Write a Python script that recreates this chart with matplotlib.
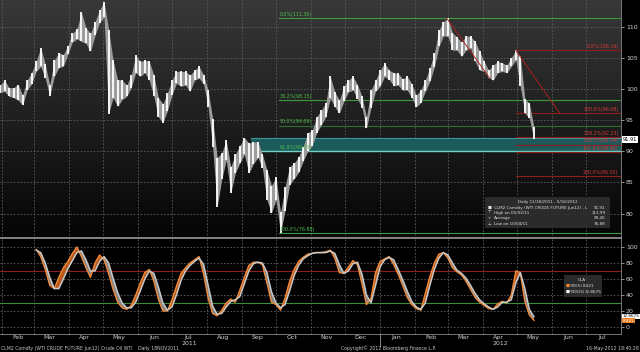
import numpy as np
import pandas as pd
import matplotlib
matplotlib.use("Agg")
import matplotlib.pyplot as plt
import matplotlib.dates as mdates
from matplotlib.colors import LinearSegmentedColormap
from matplotlib.patches import Rectangle

# ---- data (CLM2 Comdty, one sample every 4 days) ----
dates = pd.date_range("2011-01-30", periods=119, freq="4D")

price_hi = [100.6, 101.4, 100.2, 100.2, 100.7, 99.0, 101.4, 102.6, 104.4, 106.6,
            104.0, 100.6, 104.6, 105.8, 105.5, 106.9, 108.9, 109.6, 112.3, 109.8,
            108.9, 110.8, 112.6, 113.99, 109.5, 104.6, 101.5, 101.4, 100.6, 102.2,
            105.4, 104.4, 104.6, 104.4, 102.2, 98.6, 97.6, 99.3, 101.4, 102.8,
            102.8, 102.8, 102.2, 103.0, 103.6, 102.2, 99.8, 95.2, 89.0, 89.7,
            91.8, 87.5, 89.5, 90.9, 92.2, 91.3, 91.5, 91.5, 89.5, 87.0,
            84.5, 85.9, 80.2, 84.3, 87.5, 88.1, 89.1, 90.7, 92.9, 93.4,
            95.5, 96.6, 97.7, 102.0, 99.5, 98.2, 100.4, 101.4, 102.0, 100.7,
            98.8, 95.5, 99.8, 101.4, 103.0, 104.1, 103.0, 102.6, 102.5, 101.6,
            102.0, 100.8, 99.0, 99.8, 101.4, 103.4, 105.7, 109.4, 110.8, 111.3,
            109.0, 108.3, 107.5, 108.5, 108.4, 107.6, 106.0, 104.4, 103.0, 103.8,
            104.4, 104.2, 103.8, 105.0, 106.16, 105.2, 98.4, 97.7, 93.9]

price_lo = [99.4, 99.6, 98.8, 98.6, 98.2, 97.4, 99.8, 100.8, 102.8, 103.6,
            101.7, 98.8, 102.0, 103.4, 103.6, 105.6, 107.5, 108.0, 107.6, 107.3,
            106.0, 108.6, 110.6, 111.5, 96.0, 98.6, 97.2, 98.3, 98.8, 100.2,
            102.6, 102.0, 102.6, 101.4, 98.8, 95.5, 94.6, 96.5, 99.0, 100.9,
            100.4, 100.6, 99.6, 101.4, 101.7, 100.8, 97.1, 90.7, 81.1, 85.5,
            88.6, 83.3, 86.5, 88.1, 89.5, 86.5, 88.0, 89.0, 87.3, 82.2,
            80.1, 82.2, 76.88, 80.5, 84.6, 85.6, 86.6, 88.4, 90.0, 90.9,
            93.0, 94.2, 95.5, 98.5, 97.1, 96.1, 98.0, 99.5, 99.8, 98.4,
            97.0, 93.7, 97.0, 99.6, 100.4, 102.0, 101.5, 100.5, 100.6, 99.8,
            99.8, 98.6, 97.1, 97.8, 99.6, 101.2, 103.5, 106.8, 108.5, 108.4,
            106.2, 106.2, 105.2, 106.2, 106.5, 104.4, 103.0, 102.8, 101.8, 101.4,
            102.6, 102.8, 102.6, 103.6, 104.6, 100.4, 96.1, 95.3, 91.91]

# stochastic, starts with sample 8
stoch_d = [97, 88, 72, 52, 48, 62, 74, 82, 92, 100,
           88, 74, 62, 80, 90, 84, 67, 47, 31, 24,
           22, 27, 40, 55, 68, 72, 57, 35, 20, 20,
           34, 51, 67, 74, 80, 84, 88, 66, 36, 17,
           14, 21, 30, 35, 31, 46, 62, 77, 81, 81,
           78, 55, 31, 28, 21, 36, 57, 72, 82, 87,
           91, 92, 93, 93, 94, 96, 86, 68, 67, 75,
           83, 78, 54, 28, 36, 68, 82, 85, 88, 78,
           66, 52, 37, 28, 23, 21, 42, 63, 80, 91,
           93, 86, 74, 69, 65, 57, 47, 37, 31, 27,
           23, 22, 29, 32, 30, 40, 70, 68, 32, 15, 8.421]
stoch_ds = [96, 93, 80, 62, 48, 48, 60, 73, 83, 93,
            95, 84, 70, 70, 82, 88, 80, 61, 43, 30,
            24, 24, 31, 45, 60, 70, 67, 50, 30, 21,
            25, 40, 58, 70, 77, 82, 86, 78, 52, 26,
            16, 17, 25, 32, 34, 38, 54, 70, 79, 81,
            80, 68, 44, 30, 24, 28, 45, 64, 77, 85,
            89, 92, 93, 93, 93, 95, 92, 78, 67, 70,
            79, 81, 66, 40, 30, 52, 75, 84, 87, 84,
            72, 59, 45, 32, 25, 22, 30, 52, 72, 86,
            93, 90, 80, 71, 67, 61, 52, 42, 34, 29,
            25, 22, 25, 31, 31, 34, 55, 68, 48, 22, 12.8675]
stoch_dates = dates[8:]

fib_green = [(0.0, 111.30), (38.2, 98.15), (50.0, 94.09), (61.8, 90.03), (100.0, 76.88)]
fib_red = [(0.0, 106.16), (100.0, 96.08), (138.2, 92.23), (150.0, 91.04), (161.8, 89.85), (200.0, 86.00)]

months = ["Feb", "Mar", "Apr", "May", "Jun", "Jul", "Aug", "Sep", "Oct", "Nov", "Dec",
          "Jan", "Feb", "Mar", "Apr", "May", "Jun", "Jul"]

x0, x1 = pd.Timestamp("2011-01-30"), pd.Timestamp("2012-08-01")
grid_kw = dict(color="#5e5e5e", lw=0.6, ls=(0, (2, 2)))
fs = 4.5
small = 3.0

fig = plt.figure(figsize=(6.4, 3.52), dpi=100, facecolor="black")
ax = fig.add_axes([0, 0.3239, 0.9703, 0.6761])
ax2 = fig.add_axes([0, 0.0511, 0.9703, 0.2727])

# ---- price panel ----
cmap = LinearSegmentedColormap.from_list("bg", ["#050505", "#383838"])
ax.imshow(np.linspace(0, 1, 256).reshape(-1, 1), cmap=cmap, origin="lower",
          extent=[0, 1, 0, 1], transform=ax.transAxes, aspect="auto", zorder=0)
ax.set_xlim(x0, x1)
ax.set_ylim(76.1, 114.25)

for y in range(80, 111, 5):
    ax.axhline(y, zorder=1, **grid_kw)
for d in pd.date_range("2011-02-01", "2012-08-01", freq="MS"):
    ax.axvline(d, zorder=1, **grid_kw)
    ax2.axvline(d, zorder=1, **grid_kw)

# cyan zone
zone_x = [pd.Timestamp("2011-09-09"), x1]
ax.fill_between(zone_x, 90.0, 92.13, color="#1d5a5c", lw=0, zorder=2)
ax.plot(zone_x, [92.13, 92.13], color="#3f9598", lw=0.8, zorder=2)
ax.plot(zone_x, [90.0, 90.0], color="#72d0c4", lw=1.0, zorder=2)

# high/low bars
ax.fill_between(dates, price_lo, price_hi, color="#9c9c9c", lw=0, zorder=3)
ax.vlines(dates, price_lo, price_hi, color="white", lw=1.3, zorder=4)

# green retracement
g_start = pd.Timestamp("2011-10-04")
for pct, lvl in fib_green:
    col = "#7de0c8" if pct == 61.8 else ("#2f6f2f" if pct == 50.0 else "#3c9a3c")
    if pct != 61.8:
        ax.plot([g_start, x1], [lvl, lvl], color=col, lw=0.8, zorder=2)
    ax.text(g_start, lvl + 0.25, "%.1f%%(%.2f)" % (pct, lvl), color="#4cc04c",
            fontsize=3.4, va="bottom", ha="left", zorder=6)

# red extension
r_start = pd.Timestamp("2012-04-30")
ax.plot([pd.Timestamp("2012-02-29"), pd.Timestamp("2012-04-07")], [111.3, 101.7],
        color="#a52222", lw=0.7, zorder=5)
ax.plot([r_start, pd.Timestamp("2012-06-08")], [106.16, 96.08], color="#a52222", lw=0.7, zorder=5)
for pct, lvl in fib_red:
    ax.plot([r_start, x1], [lvl, lvl], color="#8e1d1d", lw=0.8, zorder=2)
    ax.text(0.996, lvl + 0.25, "%.1f%%(%.2f)" % (pct, lvl), color="#d83a3a", fontsize=3.4,
            va="bottom", ha="right", transform=ax.get_yaxis_transform(), zorder=6)

ax.yaxis.tick_right()
ax.set_yticks(range(80, 111, 5))
ax.tick_params(axis="y", colors="#d0d0d0", labelsize=fs, length=2, width=0.5, pad=1.5)
ax.tick_params(axis="x", which="both", length=0, labelbottom=False)
for s in ["left", "top", "bottom"]:
    ax.spines[s].set_visible(False)
ax.spines["right"].set_color("#8a8a8a")
ax.spines["right"].set_linewidth(0.6)

ax.annotate("91.91", xy=(1.0, 91.91), xycoords=ax.get_yaxis_transform(),
            xytext=(1.5, 0), textcoords="offset points", fontsize=3.6, color="black",
            va="center", ha="left", annotation_clip=False,
            bbox=dict(boxstyle="square,pad=0.15", fc="white", ec="none"))

# price legend box
ax.add_patch(Rectangle((0.781, 0.042), 0.201, 0.13, transform=ax.transAxes,
                       facecolor="#2e2e2e", edgecolor="none", alpha=0.92, zorder=7))
tk = dict(transform=ax.transAxes, fontsize=small, color="#e0e0e0", zorder=8, va="center")
ax.text(0.882, 0.151, "Daily 11/18/2011 - 5/16/2012", ha="center", **tk)
rows = [("\u25A0", "CLM2 Comdty (WTI CRUDE FUTURE Jun12) - L", "91.91"),
        ("\u22A4", "High on 05/02/11", "113.99"),
        ("+", "Average", "99.40"),
        ("\u22A5", "Low on 10/04/11", "76.88")]
for k, (m, lab, val) in enumerate(rows):
    yy = 0.128 - k * 0.023
    ax.text(0.788, yy, m, ha="center", **tk)
    ax.text(0.795, yy, lab, ha="left", **tk)
    ax.text(0.975, yy, val, ha="right", **tk)

# ---- stochastic panel ----
ax2.set_facecolor("black")
ax2.set_xlim(x0, x1)
ax2.set_ylim(-8.75, 111.2)
for y in range(0, 101, 20):
    ax2.axhline(y, zorder=1, **grid_kw)
ax2.axhline(70, color="#8e1d1d", lw=0.8, zorder=2)
ax2.axhline(30, color="#3c8a3c", lw=0.8, zorder=2)

d_arr = np.array(stoch_d, dtype=float)
ds_arr = np.array(stoch_ds, dtype=float)
ax2.fill_between(stoch_dates, d_arr, ds_arr, where=d_arr >= ds_arr, interpolate=True,
                 color="#b8581a", lw=0, zorder=3)
ax2.fill_between(stoch_dates, d_arr, ds_arr, where=d_arr < ds_arr, interpolate=True,
                 color="#858585", lw=0, zorder=3)
ax2.plot(stoch_dates, d_arr, color="#f08a3a", lw=1.0, zorder=4)
ax2.plot(stoch_dates, ds_arr, color="#c8c8c8", lw=1.1, zorder=4)

ax2.yaxis.tick_right()
ax2.set_yticks(range(0, 101, 20))
ax2.tick_params(axis="y", colors="#d0d0d0", labelsize=fs, length=2, width=0.5, pad=1.5)
ax2.xaxis.set_major_locator(mdates.MonthLocator())
ax2.xaxis.set_major_formatter(plt.NullFormatter())
mid_month = pd.date_range("2011-02-01", "2012-07-01", freq="MS") + pd.Timedelta(days=14)
ax2.set_xticks(mid_month, labels=months, minor=True)
ax2.tick_params(axis="x", which="major", length=0)
ax2.tick_params(axis="x", which="minor", length=0, colors="#d0d0d0", labelsize=fs, pad=1)
ax2.spines["left"].set_visible(False)
ax2.spines["top"].set_color("#9a9a9a")
ax2.spines["top"].set_linewidth(1.2)
ax2.spines["right"].set_color("#8a8a8a")
ax2.spines["right"].set_linewidth(0.6)
ax2.spines["bottom"].set_color("#8a8a8a")
ax2.spines["bottom"].set_linewidth(0.6)

xt = ax2.get_xaxis_transform()
ax2.text(pd.Timestamp("2011-07-16"), -0.1, "2011", transform=xt, fontsize=fs,
         color="#d0d0d0", ha="center", va="center")
ax2.text(pd.Timestamp("2012-04-16"), -0.1, "2012", transform=xt, fontsize=fs,
         color="#d0d0d0", ha="center", va="center")
ax2.plot([pd.Timestamp("2012-01-01")] * 2, [0, -0.12], transform=xt, clip_on=False,
         color="#9a9a9a", lw=0.6)

# stochastic legend
ax2.add_patch(Rectangle((0.909, 0.389), 0.061, 0.226, transform=ax2.transAxes,
                        facecolor="#2e2e2e", edgecolor="none", alpha=0.92, zorder=7))
tk2 = dict(transform=ax2.transAxes, fontsize=small, color="#e0e0e0", zorder=8, va="center")
ax2.text(0.937, 0.562, "CLA", ha="center", **tk2)
ax2.text(0.911, 0.5, "\u25A0", ha="left", fontsize=small, color="#f08a3a",
         transform=ax2.transAxes, zorder=8, va="center")
ax2.text(0.917, 0.5, "%D(5)", ha="left", **tk2)
ax2.text(0.957, 0.5, "8.421", ha="right", **tk2)
ax2.text(0.911, 0.44, "\u25A0", ha="left", fontsize=small, color="white",
         transform=ax2.transAxes, zorder=8, va="center")
ax2.text(0.917, 0.44, "%DS(5)", ha="left", **tk2)
ax2.text(0.968, 0.44, "12.8675", ha="right", **tk2)

yt = ax2.get_yaxis_transform()
ax2.annotate("12.8675", xy=(1.0, 13.5), xycoords=yt, xytext=(1.0, 0), textcoords="offset points",
             fontsize=small, color="black", va="center", ha="left", annotation_clip=False,
             bbox=dict(boxstyle="square,pad=0.15", fc="white", ec="none"))
ax2.annotate("8.421", xy=(1.0, 8.0), xycoords=yt, xytext=(1.0, 0), textcoords="offset points",
             fontsize=small, color="white", va="center", ha="left", annotation_clip=False,
             bbox=dict(boxstyle="square,pad=0.15", fc="#f07a1a", ec="none"))

# footer
foot = dict(fontsize=3.3, color="#c8c8c8", va="center")
fig.text(0.002, 0.011, "CLM2 Comdty (WTI CRUDE FUTURE Jun12) Crude Oil WTI", ha="left", **foot)
fig.text(138 / 640, 0.011, "Daily 18NOV2011", ha="left", **foot)
fig.text(341 / 640, 0.011, "Copyright\u00a9 2012 Bloomberg Finance L.P.", ha="left", **foot)
fig.text(0.998, 0.011, "16-May-2012 18:40:28", ha="right", **foot)

fig.savefig("out.png", dpi=100, facecolor="black")
